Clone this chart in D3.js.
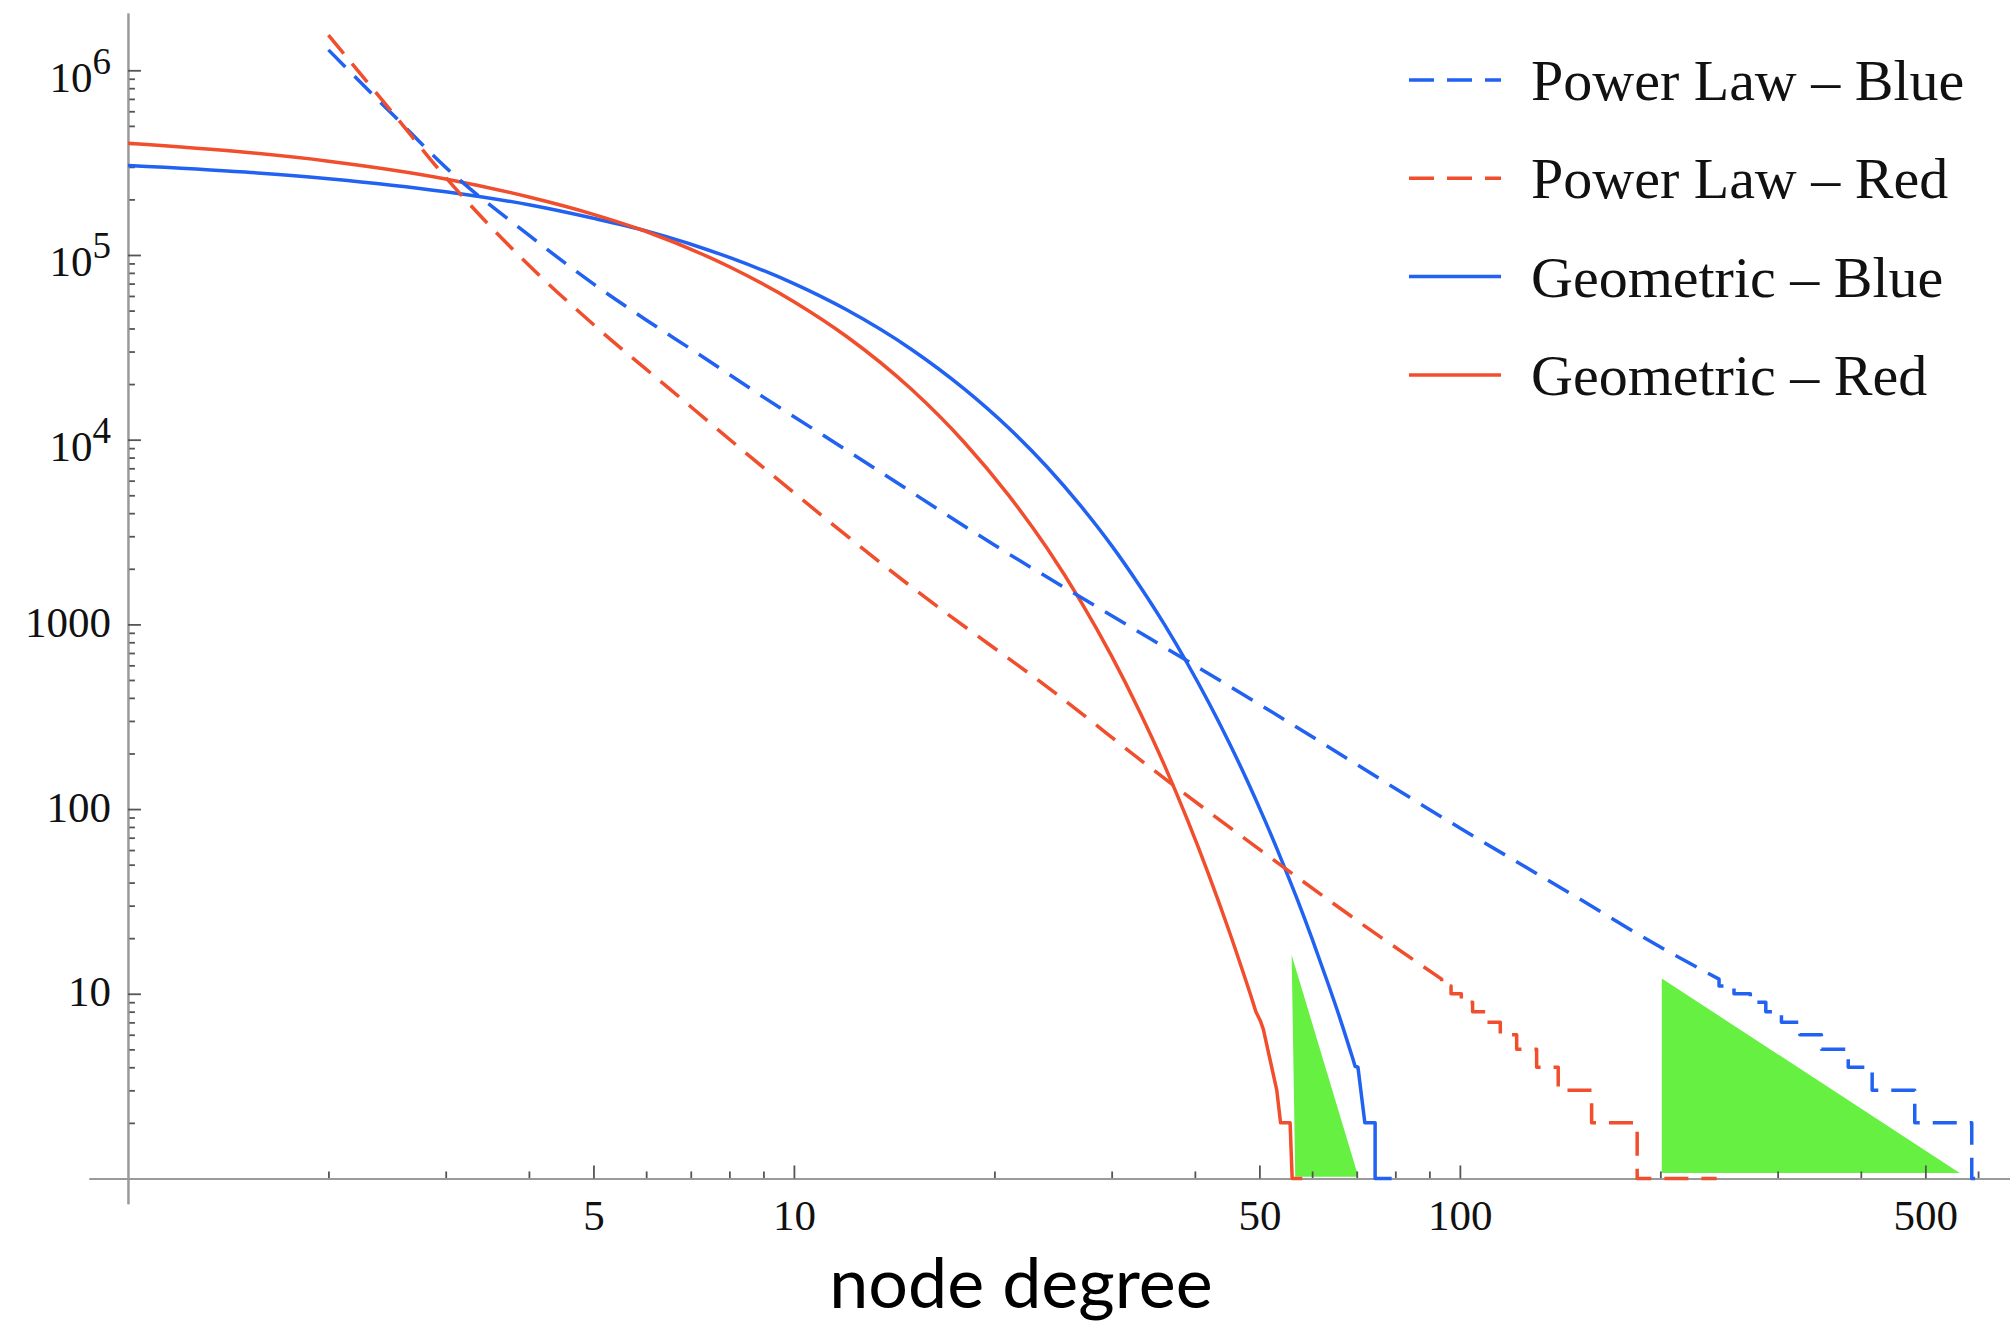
<!DOCTYPE html>
<html>
<head>
<meta charset="utf-8">
<script src="https://cdn.jsdelivr.net/npm/d3@7"></script>
<style>
  html, body { margin: 0; padding: 0; background: #fff; }
  svg { display: block; }
</style>
</head>
<body>
<svg id="chart" width="2010" height="1326"></svg>
<script>
// Degree distributions on log-log axes: number of nodes vs node degree.

// ---- data: [degree, count] ----
// Power law, blue network: smooth part, then integer staircase in the tail
const powerBlue = [[2, 1.29e6], [2.5, 5.74e5], [3, 2.98e5], [4, 1.28e5], [5, 6.97e4], [6, 4.45e4],
  [7, 3.1e4], [9, 1.70e4], [12, 8.77e3], [20, 2.69e3], [34.2, 841], [50, 369], [100, 79],
  [150, 33.2], [200, 17.9], [245, 12]];
const powerBlueTail = [[245, 11], [258, 10], [273, 9], [288, 8], [304, 7], [324, 6], [349, 5],
  [383, 4], [416, 3], [482, 2], [587, 1], [603, 1]];

// Power law, red network
const powerRed = [[2, 1.55e6], [2.5, 5.86e5], [3, 2.63e5], [4, 8.8e4], [5, 4.2e4], [6.5, 1.89e4],
  [9, 7.06e3], [15, 1.6e3], [25, 410], [34.2, 169], [50, 60.5], [74, 21.7], [93.9, 12]];
const powerRedTail = [[93.9, 11], [97, 10], [100.5, 9], [104.5, 8], [109.7, 7], [115, 6],
  [121.7, 5], [130.4, 4], [140.5, 3], [157.7, 2], [184.6, 1], [243, 1]];

// Geometric, blue network
const geomBlue = [[1, 3.05e5], [1.5, 2.81e5], [2, 2.59e5], [3, 2.20e5], [4, 1.87e5], [5, 1.58e5],
  [6, 1.35e5], [8, 9.70e4], [10, 7.00e4], [12, 5.05e4], [15, 3.09e4], [18, 1.89e4], [21, 1.16e4],
  [24, 7.11e3], [27, 4.35e3], [30, 2.67e3], [33, 1.63e3], [36, 1000], [39, 612], [42, 375],
  [45, 230], [48, 141], [51, 86.3], [54, 52.8], [57, 32.4], [60, 19.8], [63, 12.1], [66, 7.43],
  [69, 4.5]];
const geomBlueTail = [[69.6, 4.05], [70.3, 4.0], [72.0, 2.0], [74.6, 2.0], [74.6, 1.0], [79.0, 1.0]];

// Geometric, red network
const geomRed = [[1, 4.03e5], [1.5, 3.60e5], [2, 3.22e5], [3, 2.58e5], [4, 2.06e5], [5, 1.66e5],
  [6, 1.34e5], [8, 8.63e4], [10, 5.59e4], [12, 3.62e4], [15, 1.88e4], [18, 9.72e3], [21, 5.01e3],
  [24, 2.58e3], [27, 1.32e3], [30, 673], [33, 341], [36, 173], [39, 87.1], [42, 43.8],
  [45, 22.0], [48.4, 10.1]];
const geomRedTail = [[49.4, 8.0], [50.2, 7.1], [50.7, 6.4], [53.1, 3.0], [53.8, 2.0],
  [55.6, 2.0], [56.0, 1.0], [58.0, 1.0]];

// Highlighted regions (filled triangles)
const regionSmall = [[55.9, 16.2], [56.6, 1.02], [70.4, 1.02]];
const regionLarge = [[201, 12.1], [201, 1.07], [563, 1.07]];

// ---- ticks and labels ----
const xMajorTicks = [5, 10, 50, 100, 500];
const xMinorTicks = [2, 3, 4, 6, 7, 8, 9, 20, 30, 40, 60, 70, 80, 90, 200, 300, 400, 600];
const yMajorTicks = [10, 100, 1000, 1e4, 1e5, 1e6];
const yTickLabels = [["10"], ["100"], ["1000"], ["10", "4"], ["10", "5"], ["10", "6"]];
const yMinorMantissas = [2, 3, 4, 5, 6, 7, 8, 9];
const yMinorDecades = [1, 10, 100, 1000, 1e4, 1e5];

const legendLabels = ["Power Law \u2013 Blue", "Power Law \u2013 Red", "Geometric \u2013 Blue", "Geometric \u2013 Red"];
const axisTitle = "node degree";

// ---- styles ----
const BLUE = "#2162f2";
const RED = "#f04e2c";
const GREEN = "#66f042";
const DASH = "24 13";
const SERIF = "'Liberation Serif', 'DejaVu Serif', serif";

const svg = d3.select("#chart");
svg.append("rect").attr("width", 2010).attr("height", 1326).attr("fill", "#fff");

const x = d3.scaleLog().domain([0.874, 670]).range([89, 2010]);
const y = d3.scaleLog().domain([0.73, 2.04e6]).range([1203.7, 13.1]);

// ---- filled regions ----
svg.selectAll("polygon.region")
  .data([regionSmall, regionLarge])
  .join("polygon")
  .attr("class", "region")
  .attr("points", d => d.map(p => [x(p[0]), y(p[1])].join(",")).join(" "))
  .attr("fill", GREEN);

// ---- axes ----
function styleAxis(g) {
  g.select(".domain").attr("stroke", "#9a9a9a").attr("stroke-width", 2);
  g.selectAll(".tick line").attr("stroke", "#555").attr("stroke-width", 1.8);
  g.selectAll(".tick text").attr("fill", "#111").attr("font-family", SERIF).attr("font-size", 43);
}

const yMinorTicks = [];
yMinorDecades.forEach(dec => yMinorMantissas.forEach(m => yMinorTicks.push(m * dec)));

const xAxisG = svg.append("g").attr("transform", `translate(0,${y(1)})`);
xAxisG.append("g")
  .call(d3.axisBottom(x).tickValues(xMinorTicks).tickSizeInner(-7).tickSizeOuter(0).tickFormat(""))
  .call(styleAxis);
xAxisG.append("g")
  .call(d3.axisBottom(x).tickValues(xMajorTicks).tickSizeInner(-13).tickSizeOuter(0)
    .tickPadding(21).tickFormat(d3.format("d")))
  .call(styleAxis);

const yAxisG = svg.append("g").attr("transform", `translate(${x(1)},0)`);
yAxisG.append("g")
  .call(d3.axisLeft(y).tickValues(yMinorTicks).tickSizeInner(-7).tickSizeOuter(0).tickFormat(""))
  .call(styleAxis);
const yMajorG = yAxisG.append("g")
  .call(d3.axisLeft(y).tickValues(yMajorTicks).tickSizeInner(-13).tickSizeOuter(0)
    .tickPadding(17).tickFormat(""))
  .call(styleAxis);

// tick labels, powers of ten written with a raised exponent
yMajorG.selectAll(".tick text").each(function (d, i) {
  const lab = yTickLabels[i];
  const t = d3.select(this).text("");
  if (lab.length === 1) {
    t.attr("dy", "12").append("tspan").text(lab[0]);
  } else {
    t.attr("dy", "21");
    t.append("tspan").text(lab[0]);
    t.append("tspan").attr("dy", -18).attr("font-size", 37).text(lab[1]);
  }
});

// ---- series ----
const smoothLine = d3.line().x(d => x(d[0])).y(d => y(d[1])).curve(d3.curveMonotoneX);
const stepLine = d3.line().x(d => x(d[0])).y(d => y(d[1])).curve(d3.curveStepAfter);
const straightLine = d3.line().x(d => x(d[0])).y(d => y(d[1])).curve(d3.curveLinear);

function seriesPath(head, tail, tailGen) {
  return smoothLine(head) + tailGen(tail).replace(/^M/, "L");
}

const series = [
  { d: seriesPath(geomBlue, geomBlueTail, straightLine), color: BLUE, dashed: false },
  { d: seriesPath(geomRed, geomRedTail, straightLine), color: RED, dashed: false },
  { d: seriesPath(powerBlue, powerBlueTail, stepLine), color: BLUE, dashed: true },
  { d: seriesPath(powerRed, powerRedTail, stepLine), color: RED, dashed: true }
];

svg.selectAll("path.series")
  .data(series)
  .join("path")
  .attr("class", "series")
  .attr("d", s => s.d)
  .attr("fill", "none")
  .attr("stroke", s => s.color)
  .attr("stroke-width", 3.5)
  .attr("stroke-linejoin", "round")
  .attr("stroke-dasharray", s => s.dashed ? DASH : null);

// ---- legend ----
const legendItems = [
  { label: legendLabels[0], color: BLUE, dashed: true },
  { label: legendLabels[1], color: RED, dashed: true },
  { label: legendLabels[2], color: BLUE, dashed: false },
  { label: legendLabels[3], color: RED, dashed: false }
];
const legend = svg.append("g");
const rows = legend.selectAll("g")
  .data(legendItems)
  .join("g")
  .attr("transform", (d, i) => `translate(0,${100 + i * 98.3})`);
rows.append("line")
  .attr("x1", 1409).attr("x2", 1501).attr("y1", -20).attr("y2", -20)
  .attr("stroke", d => d.color)
  .attr("stroke-width", 3.5)
  .attr("stroke-dasharray", d => d.dashed ? "25 13" : null);
rows.append("text")
  .attr("x", 1531).attr("y", 0)
  .attr("font-family", SERIF).attr("font-size", 58).attr("fill", "#111")
  .text(d => d.label);

// ---- axis title ----
svg.append("text")
  .attr("x", 1021).attr("y", 1308)
  .attr("text-anchor", "middle")
  .attr("font-family", "Lato, 'Open Sans', sans-serif")
  .attr("font-size", 70)
  .attr("fill", "#000")
  .text(axisTitle);
</script>
</body>
</html>
